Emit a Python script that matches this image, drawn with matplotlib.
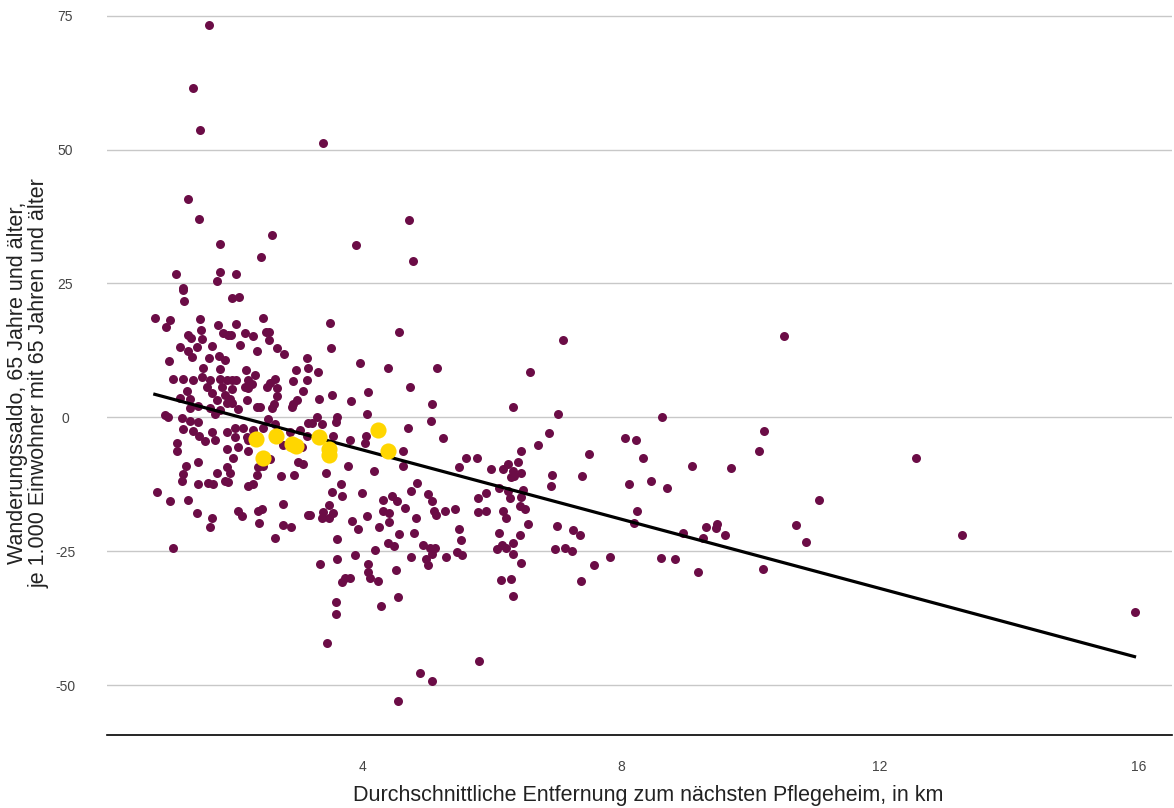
import matplotlib
matplotlib.use('Agg')
import matplotlib.pyplot as plt
import numpy as np

plt.rcParams['font.family'] = ['Liberation Sans', 'DejaVu Sans']

# Entfernung zum naechsten Pflegeheim (km) und Wanderungssaldo je 1.000 Einw. 65+
entfernung = [
    1.62, 1.37, 1.48, 1.29, 1.46, 1.79, 1.11, 1.79, 1.74, 1.22, 2.42, 2.59, 2.04,
    1.22, 1.23, 0.78, 1.01, 0.95, 1.48, 1.49, 1.76, 1.83, 1.91, 1.29, 1.34, 1.51,
    1.66, 1.17, 1.43, 1.29, 1.35, 1.62, 1.77, 1.87, 1.00, 1.52, 1.79, 1.06, 1.22,
    1.37, 1.51, 1.63, 1.79, 1.90, 1.28, 1.59, 1.66, 1.82, 1.87, 1.17, 1.32, 1.74,
    1.90, 1.32, 1.45, 1.63, 1.79, 1.71, 0.94, 0.98, 1.20, 1.32, 1.45,
    1.22, 1.37, 1.46, 1.66, 1.12, 1.56, 1.71, 1.90, 1.12, 1.90, 1.26, 1.45, 1.22,
    1.20, 1.74, 1.90, 1.45, 1.60, 1.68, 1.87, 1.91, 0.81, 1.01, 1.29, 1.43, 1.66,
    1.63, 1.06,
    1.97, 2.08, 2.45, 2.04, 1.96, 2.17, 2.30, 2.50, 2.55, 2.55, 2.10, 2.67, 2.78,
    2.36, 3.13, 2.96, 2.19, 2.33, 1.97, 2.04, 2.22, 2.28, 2.56, 2.64, 2.92, 3.13,
    2.17, 2.22, 2.67, 2.52, 1.97, 3.07, 2.67, 1.94, 2.21, 2.62, 2.92, 2.98, 2.36,
    2.41, 2.59, 2.90, 2.07, 1.97, 2.53, 2.64, 2.02, 2.14, 2.45, 3.03, 2.87, 3.15,
    2.30, 2.02, 2.21, 3.13,
    2.07, 2.22, 2.22, 1.99, 2.76, 2.56, 3.00, 3.07, 1.94, 2.38, 2.45, 2.36, 2.73,
    2.93, 2.30, 2.22, 2.76, 2.07, 2.13, 2.38, 2.44, 2.39, 3.15, 2.76, 2.89, 2.64,
    3.38, 3.89, 3.49, 4.56, 3.51, 3.15, 3.30, 3.96, 4.39, 3.32, 3.52, 3.82, 4.08,
    4.06, 3.29, 3.60, 3.21, 3.37, 3.58, 3.54, 3.80, 4.05, 4.03, 3.06, 3.43, 3.77,
    4.17, 3.66, 3.52, 3.68, 3.99, 3.48, 3.18, 3.38, 3.37, 3.48, 3.54, 3.83, 4.06,
    3.92, 4.31, 4.45, 4.53, 4.31, 4.40, 4.40, 4.25, 4.56, 3.60, 4.39, 4.48, 4.19,
    3.88, 3.60, 3.34, 4.08, 4.51, 4.08, 4.11, 3.68, 3.72, 3.80, 4.23, 4.54, 3.58,
    3.58, 4.28, 3.44, 4.54,
    4.71, 4.78, 5.15, 4.73, 5.07, 5.05, 4.70, 5.24, 4.62, 4.62, 5.60, 5.49, 5.77,
    4.84, 4.74, 5.01, 5.07, 4.65, 5.10, 5.13, 5.27, 5.43, 4.82, 5.78, 5.78, 4.79,
    5.49, 5.52, 4.93, 5.04, 5.12, 5.07, 4.74, 4.98, 5.01, 5.29, 5.46, 5.53, 4.88,
    5.07, 5.80,
    7.10, 6.59, 6.32, 7.02, 6.88, 6.71, 6.45, 7.50, 6.40, 6.25, 5.98, 6.17, 6.32,
    6.45, 6.29, 6.34, 6.93, 7.39, 6.11, 6.91, 6.25, 6.48, 5.91, 6.28, 6.45, 6.43,
    6.51, 5.91, 6.17, 6.22, 6.56, 7.00, 6.11, 6.43, 7.25, 7.36, 6.32, 6.08, 6.15,
    6.22, 6.32, 6.97, 7.13, 7.24, 7.83, 6.45, 7.58, 6.14, 6.29, 7.38, 6.32,
    10.52, 8.63, 8.06, 8.23, 8.34, 10.21, 10.13, 9.09, 9.70, 8.12, 8.46, 8.71,
    11.06, 8.24, 8.20, 8.96, 9.31, 9.48, 9.46, 9.26, 9.61, 10.70, 10.86, 8.61,
    8.83, 9.19, 10.19,
    12.56, 13.27, 15.94,
]
saldo = [
    73.3, 61.4, 53.7, 40.7, 37.1, 32.3, 26.7, 27.1, 25.4, 24.1, 30.0, 34.1, 26.7,
    23.7, 21.8, 18.5, 18.1, 16.8, 18.3, 16.4, 17.2, 15.7, 15.3, 15.3, 14.9, 14.6,
    13.4, 13.1, 13.2, 12.3, 11.2, 11.0, 11.4, 10.8, 10.6, 9.3, 9.1, 7.1, 7.1,
    6.9, 7.5, 6.9, 7.1, 6.9, 5.0, 5.6, 4.5, 5.6, 4.1, 3.7, 3.5, 3.2,
    2.6, 1.7, 2.2, 1.7, 1.3, 0.7, 0.4, 0.0, -0.2, -0.6, -0.9,
    -2.1, -2.6, -3.4, -2.8, -4.7, -4.5, -4.3, -2.8, -6.3, -6.0, -9.1, -8.4, -10.6,
    -11.9, -10.4, -9.3, -12.5, -12.3, -12.5, -11.8, -12.1, -14.0, -15.7, -15.5, -17.9, -18.7,
    -20.5, -24.4,
    22.2, 22.4, 18.5, 17.5, 15.3, 15.7, 15.1, 15.9, 16.0, 14.4, 13.6, 12.9, 11.9,
    12.3, 11.0, 8.8, 8.8, 8.0, 6.9, 6.9, 6.9, 6.3, 6.5, 7.1, 6.7, 6.9,
    5.6, 5.4, 5.4, 5.6, 5.2, 5.0, 3.9, 3.5, 3.2, 2.4, 2.4, 3.2, 1.9,
    1.9, 1.7, 1.9, 1.5, 2.6, -0.4, -1.3, -1.9, -1.9, -1.9, -2.4, -2.8, -1.1,
    -2.4, -3.7, -3.7, -3.5,
    -5.6, -4.3, -6.2, -7.5, -5.2, -7.8, -8.4, -8.8, -10.3, -9.3, -9.0, -10.8, -11.0,
    -10.8, -12.5, -12.9, -16.2, -17.5, -18.5, -17.5, -17.2, -19.8, -18.3, -20.1, -20.5, -22.6,
    51.3, 32.1, 17.7, 15.9, 12.9, 9.3, 8.4, 10.1, 9.3, 3.4, 4.1, 3.0, 4.7,
    0.7, 0.0, 0.0, -1.1, -1.3, -0.9, -3.4, -4.3, -3.5, -4.7, -5.6, -10.4, -9.1,
    -10.1, -12.5, -14.0, -14.6, -14.2, -16.4, -18.3, -17.7, -18.7, -18.7, -17.9, -19.4, -18.5,
    -20.9, -15.5, -14.7, -15.7, -17.4, -17.9, -19.6, -20.5, -21.8, -22.8, -23.5, -24.1, -24.8,
    -25.7, -26.5, -27.4, -27.4, -28.5, -28.9, -30.0, -30.8, -30.0, -30.0, -30.6, -33.6, -34.5,
    -36.8, -35.3, -42.1, -53.0,
    36.9, 29.1, 9.3, 5.6, 2.4, -0.6, -1.9, -3.9, -6.2, -9.0, -7.6, -9.3, -7.6,
    -12.3, -13.8, -14.4, -15.7, -17.0, -17.5, -18.3, -17.5, -17.2, -18.8, -15.1, -17.7, -21.5,
    -20.9, -22.9, -23.9, -24.3, -24.4, -25.6, -26.1, -26.5, -27.6, -26.1, -25.2, -25.7, -47.8,
    -49.3, -45.5,
    14.4, 8.4, 1.9, 0.7, -3.0, -5.2, -6.3, -6.9, -8.4, -8.8, -9.7, -9.7, -10.1,
    -10.4, -11.2, -11.0, -10.8, -11.0, -13.1, -12.9, -13.8, -13.6, -14.2, -15.1, -14.9, -16.6,
    -17.2, -17.5, -17.5, -18.8, -20.0, -20.3, -21.5, -22.0, -21.1, -22.0, -23.5, -24.6, -23.9,
    -24.4, -25.6, -24.6, -24.3, -25.0, -26.1, -27.1, -27.6, -30.4, -30.2, -30.6, -33.4,
    15.1, 0.0, -3.9, -4.3, -7.6, -2.6, -6.2, -9.0, -9.5, -12.5, -11.9, -13.1,
    -15.5, -17.5, -19.8, -21.6, -20.5, -20.0, -20.7, -22.6, -22.0, -20.1, -23.3, -26.3,
    -26.5, -28.9, -28.4,
    -7.6, -22.0, -36.4,
]

# hervorgehobene Kreise
entfernung_gelb = [2.35, 2.45, 2.65, 2.90, 2.96, 3.32, 3.48, 3.48, 4.23, 4.39]
saldo_gelb = [-4.1, -7.5, -3.5, -5.0, -5.4, -3.7, -6.0, -7.1, -2.4, -6.3]

# Trendlinie
trend_steigung = -3.23
trend_achse = 6.82

y_ticks = [-50, -25, 0, 25, 50, 75]
x_ticks = [4, 8, 12, 16]

LILA = '#6b0c46'
GELB = '#ffd600'

fig = plt.figure(figsize=(11.74, 8.08), dpi=100)
ax = fig.add_axes([107 / 1174, 73 / 808, 1065 / 1174, 721 / 808])

ax.scatter(entfernung, saldo, s=42, color=LILA, linewidths=0, zorder=3)

xs = np.array([min(entfernung), max(entfernung)])
ax.plot(xs, trend_achse + trend_steigung * xs, color='black', lw=2.3, zorder=4)

ax.scatter(entfernung_gelb, saldo_gelb, s=135, color=GELB, linewidths=0, zorder=5)

ax.set_xlim(0.04, 16.52)
ax.set_ylim(-59.3, 75.3)
ax.set_yticks(y_ticks)
ax.set_yticklabels([str(t) for t in y_ticks])
ax.set_xticks(x_ticks)
ax.grid(axis='y', color='#c8c8c8', lw=1)
ax.set_axisbelow(True)

for s in ['top', 'right', 'left']:
    ax.spines[s].set_visible(False)
ax.spines['bottom'].set_color('black')
ax.spines['bottom'].set_linewidth(1.2)

ax.tick_params(axis='y', length=0, pad=30, labelsize=10, labelcolor='#444444')
for lab in ax.get_yticklabels():
    lab.set_horizontalalignment('center')
ax.tick_params(axis='x', length=0, pad=18, labelsize=10, labelcolor='#444444')

fig.text(648 / 1174, 1 - 796 / 808,
         'Durchschnittliche Entfernung zum nächsten Pflegeheim, in km',
         ha='center', va='center', fontsize=15.5, color='#222222')
fig.text(28 / 1174, 1 - 383 / 808,
         'Wanderungssaldo, 65 Jahre und älter,\nje 1.000 Einwohner mit 65 Jahren und älter',
         rotation=90, ha='center', va='center', multialignment='center',
         fontsize=15.5, color='#222222', linespacing=1.05)

fig.savefig('out.png', dpi=100)
